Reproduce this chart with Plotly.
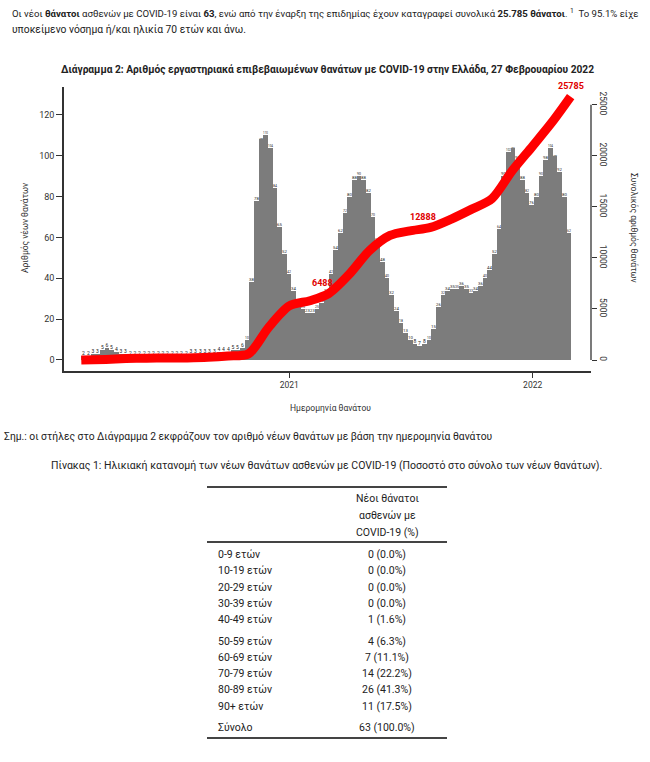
import numpy as np
import pandas as pd
import plotly.graph_objects as go

# ---------------- data ----------------
# average daily deaths (bar height) for each week, weeks starting Monday 2020-02-24
week_start_first = "2020-02-24"
daily_deaths_weekly_avg = [
    2, 2, 3, 3, 5, 6, 5, 4, 3, 3, 2, 2, 2, 2, 2, 2, 2, 2, 2, 2, 2, 2, 2, 3, 3, 3, 3, 3, 3, 4, 4, 4, 5, 5, 6, 10,
    38, 78, 108, 110, 104, 84, 65, 52, 42,
    34, 28, 25, 23, 23, 25, 28, 33,
    42, 54, 62, 72, 80, 88, 90, 88, 82, 70, 58, 48, 40, 32, 24, 18, 13, 10, 8, 7,
    8, 10, 15, 26, 32, 34, 35, 35, 36, 35, 33, 34, 36, 40, 44, 52,
    64, 90, 102, 104, 98, 88, 82, 76, 80, 90, 98, 104, 100, 92, 80, 62,
]

# cumulative number of deaths (red line), read at month starts
cum_dates = ["2020-02-24", "2020-04-01", "2020-05-01", "2020-06-01", "2020-07-01", "2020-08-01",
             "2020-09-01", "2020-10-01", "2020-11-01", "2020-12-01", "2021-01-01", "2021-02-01",
             "2021-03-01", "2021-04-01", "2021-05-01", "2021-06-01", "2021-07-01", "2021-08-01",
             "2021-09-01", "2021-10-01", "2021-11-01", "2021-12-01", "2022-01-01", "2022-02-01",
             "2022-02-27"]
cum_values = [0, 60, 140, 175, 192, 206, 260, 390, 610, 3200, 5300, 5810,
              6500, 8400, 10700, 12200, 12650, 12980, 13800, 14750, 15800, 18500, 20950, 23450,
              25785]

cum_label_dates = ["2021-02-20", "2021-07-20", "2022-02-27"]
cum_label_values = [6488, 12888, 25785]

x_tick_dates = ["2021-01-01", "2022-01-01"]
x_tick_text = ["2021", "2022"]
left_ticks = [0, 20, 40, 60, 80, 100, 120]
right_ticks = [0, 5000, 10000, 15000, 20000, 25000]

age_groups = ["0-9 ετών", "10-19 ετών", "20-29 ετών", "30-39 ετών", "40-49 ετών",
              "50-59 ετών", "60-69 ετών", "70-79 ετών", "80-89 ετών", "90+ ετών"]
age_deaths = [0, 0, 0, 0, 1, 4, 7, 14, 26, 11]
age_pct = [0.0, 0.0, 0.0, 0.0, 1.6, 6.3, 11.1, 22.2, 41.3, 17.5]
total_deaths = 63
total_pct = 100.0

# ---------------- derived ----------------
week_starts = pd.date_range(week_start_first, periods=len(daily_deaths_weekly_avg), freq="7D")
bar_x = week_starts + pd.Timedelta(hours=84)
avg = np.array(daily_deaths_weekly_avg, dtype=float)

W, H = 650, 762
L, R, T, B = 64, 591, 87, 371


def xp(px):
    return (px - L) / (R - L)


def yp(py):
    return (B - py) / (B - T)


FONT = "Roboto, 'Noto Sans', sans-serif"
TXT = "#222222"
AX = "#333333"

fig = go.Figure()
fig.add_trace(go.Bar(
    x=bar_x, y=avg, width=7 * 86400000,
    marker=dict(color="#7c7c7c", line=dict(width=0)),
    text=[str(int(v)) for v in avg], textposition="outside",
    textfont=dict(size=5, color="#222222"), cliponaxis=False,
    showlegend=False, hoverinfo="skip",
))
fig.add_trace(go.Scatter(
    x=cum_dates, y=cum_values, yaxis="y2", mode="lines",
    line=dict(color="#ff0000", width=9, shape="spline", smoothing=0.8),
    showlegend=False, hoverinfo="skip",
))

annotations = []
for d, v in zip(cum_label_dates, cum_label_values):
    annotations.append(dict(
        text=f"<b>{v}</b>", x=d, y=v, xref="x", yref="y2", yanchor="bottom", xanchor="center",
        yshift=4, showarrow=False, font=dict(family=FONT, size=9, color="#e00000"),
    ))


def ann(text, px, py, size, xanchor="center", yanchor="middle", angle=0, color=TXT):
    annotations.append(dict(
        text=text, x=xp(px), y=yp(py), xref="paper", yref="paper",
        xanchor=xanchor, yanchor=yanchor, showarrow=False, textangle=angle,
        font=dict(family=FONT, size=size, color=color),
    ))


ann("Οι νέοι <b>θάνατοι</b> ασθενών με COVID-19 είναι <b>63</b>, ενώ από την έναρξη της επιδημίας "
    "έχουν καταγραφεί συνολικά <b>25.785 θάνατοι</b>. <sup>1</sup>  Το 95.1% είχε", 10, 13, 9.6, xanchor="left")
ann("υποκείμενο νόσημα ή/και ηλικία 70 ετών και άνω.", 10, 29, 10.3, xanchor="left")
ann("<b>Διάγραμμα 2: Αριθμός εργαστηριακά επιβεβαιωμένων θανάτων με COVID-19 στην Ελλάδα, 27 Φεβρουαρίου 2022</b>",
    327, 70, 10.2)
ann("Αριθμός νέων θανάτων", 25, 228, 8.5, angle=-90, color=AX)
ann("Συνολικός αριθμός θανάτων", 634, 228, 8.5, angle=90, color=AX)
ann("Ημερομηνία θανάτου", 330, 408, 8.5, color=AX)
ann("Σημ.: οι στήλες στο Διάγραμμα 2 εκφράζουν τον αριθμό νέων θανάτων με βάση την ημερομηνία θανάτου",
    2, 436, 10.3, xanchor="left")
ann("Πίνακας 1: Ηλικιακή κατανομή των νέων θανάτων ασθενών με COVID-19 (Ποσοστό στο σύνολο των νέων θανάτων).",
    326, 465, 10.5)

# table
TF = 10.5
ann("Νέοι θάνατοι", 387, 498, TF)
ann("ασθενών με", 387, 515, TF)
ann("COVID-19 (%)", 387, 532, TF)
row_y = [554, 570, 587, 603, 619, 641, 657, 673, 690, 706]
for g, n, p, yy in zip(age_groups, age_deaths, age_pct, row_y):
    ann(g, 216, yy, TF, xanchor="left")
    ann(f"{n} ({p:.1f}%)", 387, yy, TF)
ann("Σύνολο", 216, 727, TF, xanchor="left")
ann(f"{total_deaths} ({total_pct:.1f}%)", 387, 727, TF)

shapes = []
for yy in (487, 542, 738):
    shapes.append(dict(type="line", xref="paper", yref="paper", x0=xp(207), x1=xp(447),
                       y0=yp(yy), y1=yp(yy), line=dict(color="#444444", width=2)))
shapes.append(dict(type="line", xref="paper", yref="y2", x0=1, x1=1,
                   y0=right_ticks[0], y1=right_ticks[-1], line=dict(color=AX, width=1.3)))

fig.update_layout(
    width=W, height=H, margin=dict(l=L, r=W - R, t=T, b=H - B, pad=0),
    paper_bgcolor="white", plot_bgcolor="white",
    bargap=0, font=dict(family=FONT, color=AX, size=9),
    annotations=annotations, shapes=shapes,
    xaxis=dict(type="date", range=["2020-01-29 02:00", "2022-03-29 12:00"],
               tickvals=x_tick_dates, ticktext=x_tick_text,
               ticks="outside", ticklen=5, tickcolor=AX, tickwidth=1.3,
               showline=True, linecolor=AX, linewidth=2, showgrid=False, zeroline=False,
               tickfont=dict(size=8.5, color=AX)),
    yaxis=dict(range=[-5.39, 133.7], tickvals=left_ticks, ticks="outside", ticklen=6,
               tickcolor=AX, tickwidth=1.3, showline=True, linecolor=AX, linewidth=1.5,
               showgrid=False, zeroline=False, tickfont=dict(size=9, color=AX)),
    yaxis2=dict(range=[-1077, 26733], overlaying="y", side="right", tickvals=right_ticks,
                ticktext=[str(v) for v in right_ticks],
                ticks="outside", ticklen=5, tickcolor=AX, tickwidth=1.3, tickangle=90,
                showline=False, showgrid=False, zeroline=False, tickfont=dict(size=8.5, color=AX)),
)

fig.write_html("out.html", config={"displayModeBar": False},
               post_script="document.body.style.margin='0';document.body.style.overflow='hidden';")
